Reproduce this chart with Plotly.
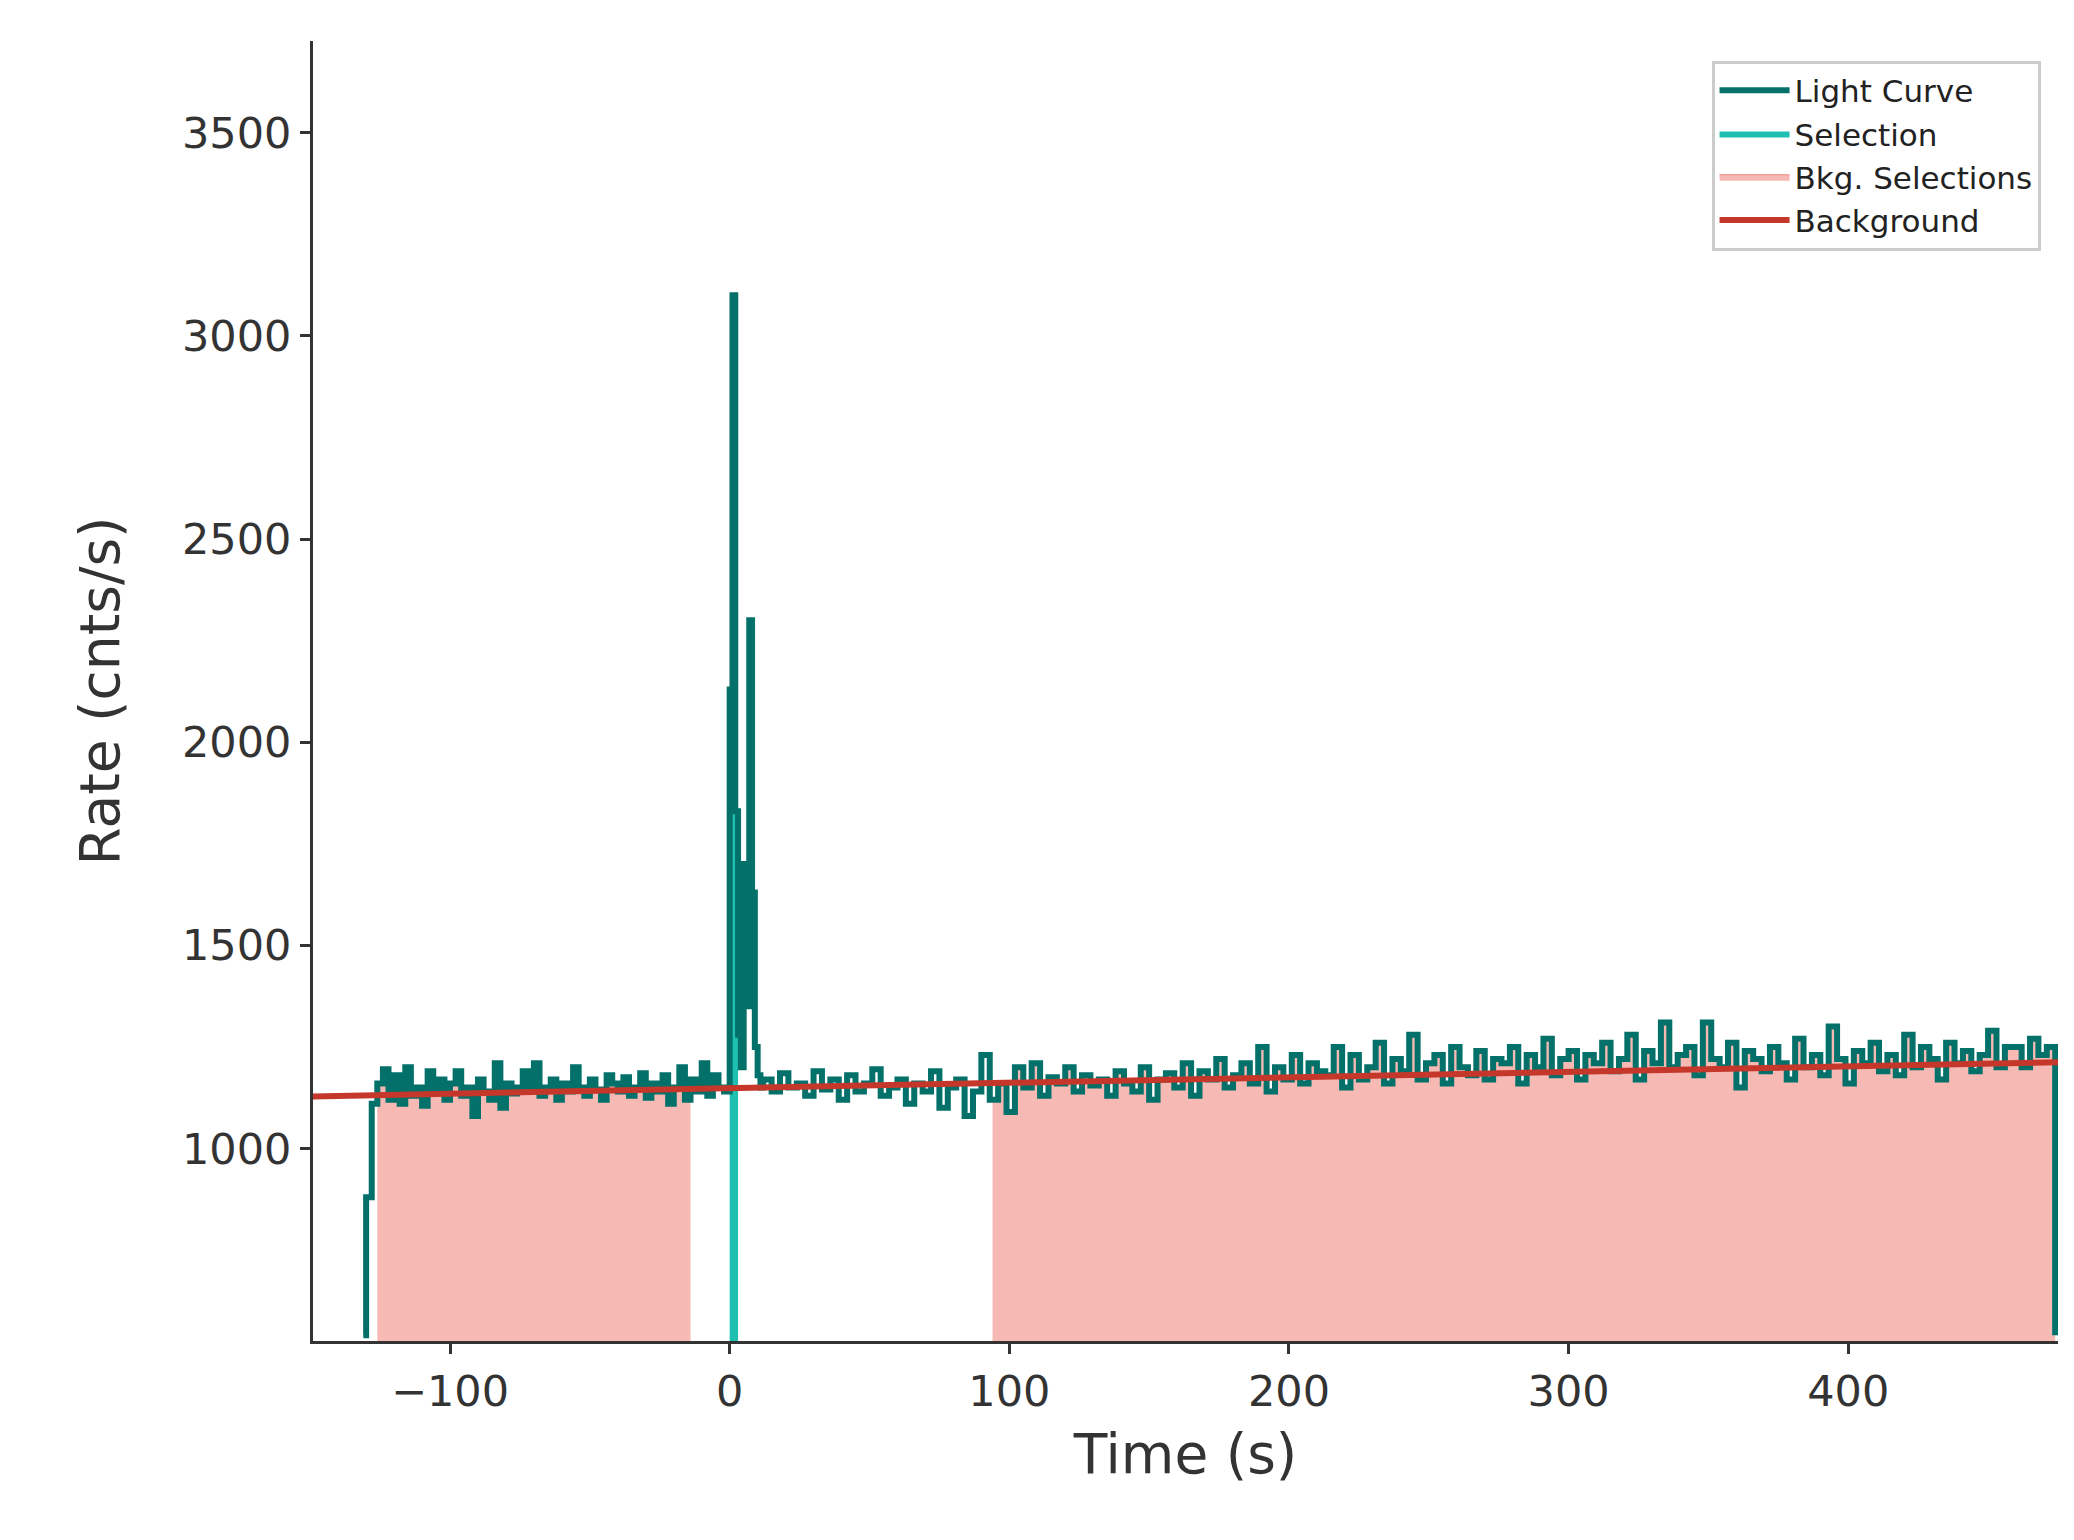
import plotly.graph_objects as go

lead_t = -131
lead_rate = 540
pre_start = -130
pre_step = 2
pre_rate = [880,1110,1160,1195,1120,1180,1110,1200,1130,1150,
            1105,1190,1140,1170,1120,1160,1190,1130,1150,1080,
            1170,1140,1120,1210,1100,1160,1135,1150,1190,1140,
            1210,1130,1150,1170,1120,1160,1140,1200,1150,1130,
            1170,1145,1120,1180,1160,1140,1175,1130,1150,1185,
            1125,1160,1140,1180,1110,1150,1200,1120,1170,1140,
            1210,1130,1180,1150,1140]
spike_start = 0
spike_step = 1
spike_rate = [2130,3100,1830,1280,1200,1700,1350,2300,1630,1250,1180,1150]
post_start = 12
post_step = 3
post_rate = [1170,1140,1185,1150,1160,1130,1190,1145,1170,1120,
             1180,1140,1160,1195,1130,1150,1170,1110,1160,1140,
             1190,1100,1150,1170,1080,1140,1230,1120,1160,1090,
             1200,1150,1210,1130,1175,1160,1200,1140,1180,1155,
             1170,1130,1190,1160,1140,1200,1120,1170,1185,1150,
             1210,1130,1190,1170,1220,1150,1180,1210,1160,1250,
             1140,1200,1170,1230,1160,1210,1190,1180,1250,1150,
             1230,1170,1200,1260,1160,1220,1190,1280,1170,1210,
             1230,1160,1250,1200,1180,1240,1170,1220,1210,1250,
             1160,1230,1200,1270,1180,1220,1240,1170,1230,1210,
             1260,1190,1220,1280,1170,1240,1210,1310,1200,1230,
             1250,1180,1310,1220,1200,1260,1150,1240,1220,1190,
             1250,1210,1170,1270,1200,1230,1180,1300,1220,1160,
             1240,1210,1260,1190,1230,1180,1280,1200,1250,1220,
             1170,1260,1210,1240,1190,1230,1290,1200,1250,1250,
             1200,1270,1230,1250]
end_t = 474
end_rate = 540
bkg_windows = [(-126, -14), (94, 474)]
sel_window = (0, 3)
bkg_line_t = [-150, 475]
bkg_line_rate = [1128, 1212]

t, r = [lead_t], [lead_rate]
for start, step, vals in [(pre_start, pre_step, pre_rate), (spike_start, spike_step, spike_rate), (post_start, post_step, post_rate)]:
    for i, v in enumerate(vals):
        t.append(start + i * step); r.append(v)
t.append(end_t); r.append(end_rate)

def clip(lo, hi):
    xs, ys = [], []
    for i in range(len(t) - 1):
        a, b = max(t[i], lo), min(t[i + 1], hi)
        if a < b:
            xs += [a, b]; ys += [r[i], r[i]]
    return xs, ys

fig = go.Figure()
for k, (lo, hi) in enumerate(bkg_windows):
    xs, ys = clip(lo, hi)
    fig.add_trace(go.Scatter(x=xs, y=ys, fill='tozeroy', mode='lines', line=dict(color='#f08a80', width=1),
                             fillcolor='rgba(240,138,128,0.6)', name='Bkg. Selections', showlegend=(k == 0), legendrank=3))
xs, ys = clip(*sel_window)
fig.add_trace(go.Scatter(x=xs, y=ys, fill='tozeroy', mode='lines', line=dict(color='#1fbfb2', width=0),
                         fillcolor='#1fbfb2', name='Selection', legendrank=2))
fig.add_trace(go.Scatter(x=t, y=r, mode='lines', line=dict(color='#03706a', width=6, shape='hv'),
                         name='Light Curve', legendrank=1))
fig.add_trace(go.Scatter(x=bkg_line_t, y=bkg_line_rate, mode='lines', line=dict(color='#c4372a', width=6),
                         name='Background', legendrank=4))

ax = dict(showline=True, linecolor='#333', linewidth=3, ticks='outside', ticklen=10, tickwidth=3,
          tickcolor='#333', showgrid=False, zeroline=False, tickfont=dict(size=43, color='#333'),
          title_font=dict(size=55, color='#333'))
fig.update_layout(width=2074, height=1540, plot_bgcolor='white', paper_bgcolor='white',
                  font=dict(family='DejaVu Sans'),
                  margin=dict(l=305, r=24, t=33, b=207),
                  xaxis=dict(ax, range=[-149, 475], title_text='Time (s)', title_standoff=20,
                             tickvals=[-100, 0, 100, 200, 300, 400],
                             ticktext=['−100', '0', '100', '200', '300', '400']),
                  yaxis=dict(ax, range=[526, 3726], title_text='Rate (cnts/s)', title_standoff=45,
                             tickvals=[1000, 1500, 2000, 2500, 3000, 3500]),
                  legend=dict(x=0.99, y=0.985, xanchor='right', yanchor='top', bordercolor='#ccc', borderwidth=3,
                              font=dict(size=31, color='#222'), bgcolor='white', itemwidth=70))
fig.write_html("out.html")
